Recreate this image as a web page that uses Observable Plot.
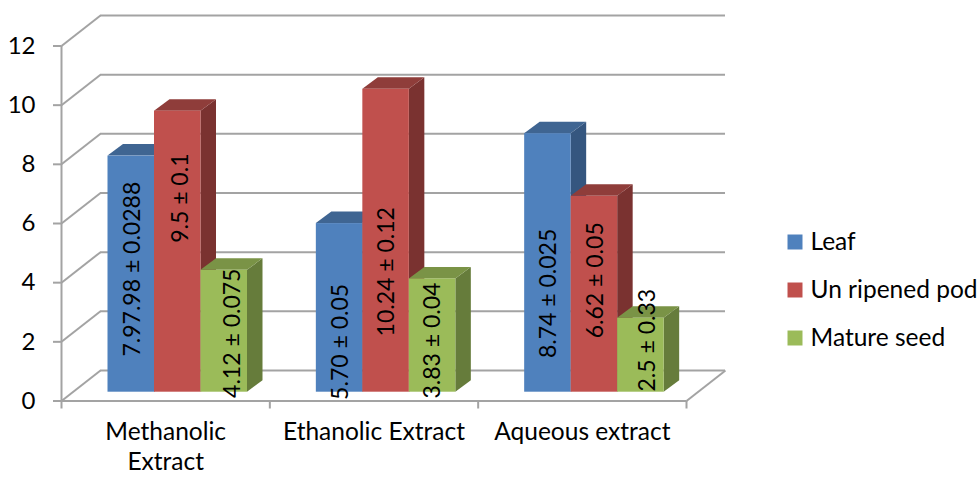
<!DOCTYPE html>
<html>
<head>
<meta charset="utf-8">
<script src="https://cdn.jsdelivr.net/npm/d3@7"></script>
<script src="https://cdn.jsdelivr.net/npm/@observablehq/plot@0.6"></script>
<style>
  html, body { margin: 0; padding: 0; background: #fff; overflow: hidden; }
  svg { display: block; }
</style>
</head>
<body>
<div id="chart"></div>
<script>
// Extract yield by plant part and solvent
const extracts = ["Methanolic\nExtract", "Ethanolic Extract", "Aqueous extract"];
const parts = ["Leaf", "Un ripened pod", "Mature seed"];
const leaf = [7.98, 5.70, 8.74];
const pod = [9.5, 10.24, 6.62];
const seed = [4.12, 3.83, 2.5];
const leafLabels = ["7.97.98 ± 0.0288", "5.70 ± 0.05", "8.74 ± 0.025"];
const podLabels = ["9.5 ± 0.1", "10.24 ± 0.12", "6.62 ± 0.05"];
const seedLabels = ["4.12 ± 0.075", "3.83 ± 0.04", "2.5 ± 0.33"];
const yTicks = [0, 2, 4, 6, 8, 10, 12];
const xTicks = [0, 1, 2, 3];

// Series colours: front, top and side face of each column
const fronts = ["#4f81bd", "#c0504d", "#9bbb59"];
const tops = ["#3f6592", "#8f3d3a", "#7a9346"];
const sides = ["#35567f", "#7a3230", "#667c3b"];
const grid = "#a3a3a3";
const font = "Lato, sans-serif";
const valueSize = 23;
const textSize = 24.5;
const tickSize = 24;

// Oblique projection, in axis units: the wall sits behind the axis plane,
// the columns stand part-way along the floor.
const wallX = 39 / 208.33, wallY = 30.5 / 29.58;
const liftY = 8.8 / 29.58;
const depthX = 15.5 / 208.33, depthY = 11.5 / 29.58;
const barWidth = 46.5 / 208.33, barStart = 46.5 / 208.33;

// Hand placement of the rotated value labels, per series and group
const labelDx = [[1, 1, 1], [3, 1, 1], [8, 0, 7]];
const labelDy = [[-5, 34, 30.5], [-53.5, 31, -14], [2, 5, -15]];

const series = [leaf, pod, seed];
const seriesLabels = [leafLabels, podLabels, seedLabels];

function column(g, s) {
  const v = series[s][g];
  const x0 = g + barStart + s * barWidth;
  const x1 = x0 + barWidth;
  const base = liftY, top = v + liftY;
  return [
    Plot.areaY([{x: x1, y1: base, y2: top}, {x: x1 + depthX, y1: base + depthY, y2: top + depthY}],
      {x: "x", y1: "y1", y2: "y2", fill: sides[s]}),
    Plot.areaX([{y: top, x1: x0, x2: x1}, {y: top + depthY, x1: x0 + depthX, x2: x1 + depthX}],
      {y: "y", x1: "x1", x2: "x2", fill: tops[s]}),
    Plot.rect([{x1: x0, x2: x1, y1: base, y2: top}],
      {x1: "x1", x2: "x2", y1: "y1", y2: "y2", fill: fronts[s]})
  ];
}

function valueLabel(g, s) {
  const v = series[s][g];
  return Plot.text([seriesLabels[s][g]], {
    x: () => g + barStart + (s + 0.5) * barWidth,
    y: () => v / 2 + liftY,
    text: d => d,
    rotate: -90,
    fontSize: valueSize,
    fill: "#000",
    dx: labelDx[s][g],
    dy: labelDy[s][g]
  });
}

const columns = [];
const labels = [];
extracts.forEach((_, g) => {
  parts.forEach((_, s) => {
    columns.push(...column(g, s));
    labels.push(valueLabel(g, s));
  });
});

// Legend entries stacked to the right of the plot
const legend = parts.flatMap((name, i) => [
  Plot.dot([name], {
    frameAnchor: "top-left",
    dx: 733.5,
    dy: 196 + i * 48,
    symbol: "square",
    r: 8.46,
    fill: fronts[i]
  }),
  Plot.text([name], {
    frameAnchor: "top-left",
    lineAnchor: "middle",
    text: d => d,
    dx: 749,
    dy: 196 + i * 48,
    fontSize: textSize,
    fill: "#000"
  })
]);

const chart = Plot.plot({
  width: 977,
  height: 477,
  marginLeft: 61,
  marginRight: 291,
  marginTop: 45.5,
  marginBottom: 76.5,
  style: {fontFamily: font, background: "#fff", overflow: "visible"},
  x: {type: "linear", domain: [0, 3], axis: null},
  y: {type: "linear", domain: [0, 12], axis: null},
  marks: [
    // back wall gridlines
    Plot.ruleY(yTicks, {y: d => d + wallY, x1: wallX, x2: 3 + wallX, stroke: grid, strokeWidth: 2}),
    // side wall gridlines running from the axis to the back wall
    Plot.link(yTicks, {x1: 0, y1: d => d, x2: wallX, y2: d => d + wallY, stroke: grid, strokeWidth: 2}),
    // floor edges
    Plot.link([0], {x1: 3, y1: d => d, x2: 3 + wallX, y2: d => d + wallY, stroke: grid, strokeWidth: 2}),
    Plot.ruleY([0], {stroke: grid, strokeWidth: 2}),
    Plot.ruleX([0], {stroke: grid, strokeWidth: 2}),
    Plot.axisY({
      ticks: yTicks, tickSize: 8, tickPadding: 18, fontSize: tickSize,
      stroke: grid, strokeWidth: 2, tickFormat: d => d, label: null, fill: "#000",
      marginLeft: 61
    }),
    Plot.axisX({ticks: xTicks, tickSize: 8, stroke: grid, strokeWidth: 2, tickFormat: () => "", label: null}),
    ...columns,
    ...labels,
    // category names under the floor
    Plot.text(extracts, {
      x: (_, i) => i + 0.5,
      y: () => 0,
      text: d => d,
      dy: 17.5,
      lineAnchor: "top",
      lineHeight: 1.22,
      fontSize: textSize,
      fill: "#000"
    }),
    ...legend
  ]
});

document.getElementById("chart").appendChild(chart);
</script>
</body>
</html>
